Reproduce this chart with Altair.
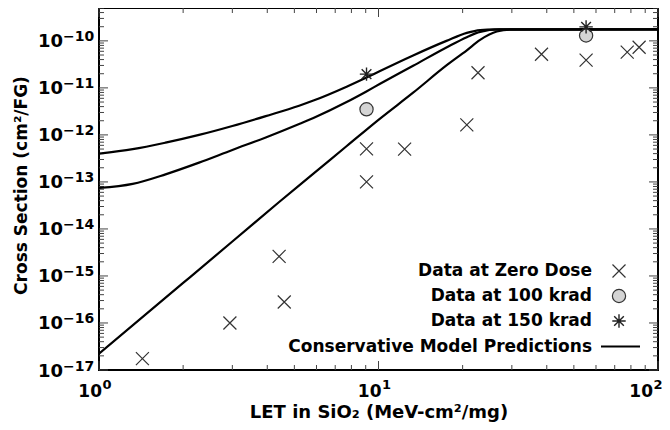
import altair as alt
import pandas as pd

# ---------------- data ----------------
LET_ZERO = [1.43, 2.94, 4.41, 4.60, 9.06, 9.06, 12.4, 20.7, 22.7, 38.3, 55.3, 77.6, 85.6]
XS_ZERO = [1.75e-17, 1.0e-16, 2.6e-15, 2.8e-16, 5.05e-13, 1.0e-13, 5.0e-13,
           1.63e-12, 2.1e-11, 5.2e-11, 3.9e-11, 5.75e-11, 7.3e-11]
LET_100 = [9.06, 55.3]
XS_100 = [3.5e-12, 1.3e-10]
LET_150 = [9.06, 55.3]
XS_150 = [1.96e-11, 1.98e-10]

MODEL_A_LET = [1, 1.32, 1.73, 2.28, 3.0, 3.95, 5.2, 5.85, 7.69, 9.02, 10.13, 13.3, 17.5, 20.7, 23.1, 26.0, 100]
MODEL_A_XS = [4.0e-13, 4.97e-13, 6.84e-13, 1.0e-12, 1.55e-12, 2.51e-12, 4.17e-12, 5.37e-12,
              1.06e-11, 1.64e-11, 2.29e-11, 4.9e-11, 1.0e-10, 1.48e-10, 1.7e-10, 1.75e-10, 1.75e-10]
MODEL_B_LET = [1, 1.32, 1.73, 2.28, 3.0, 3.95, 5.2, 5.85, 7.69, 9.02, 10.13, 13.3, 17.5, 20.7, 23.1, 27.0, 100]
MODEL_B_XS = [7.45e-14, 9.1e-14, 1.45e-13, 2.57e-13, 4.79e-13, 8.8e-13, 1.7e-12, 2.29e-12,
              5.0e-12, 8.3e-12, 1.22e-11, 2.95e-11, 7.24e-11, 1.2e-10, 1.55e-10, 1.75e-10, 1.75e-10]
MODEL_C_LET = [1, 2, 3, 4.4, 5.85, 7.7, 10.1, 13.3, 17.5, 20.7, 23.1, 26.5, 30, 100]
MODEL_C_XS = [2.23e-17, 7.1e-16, 5.4e-15, 3.7e-14, 1.5e-13, 5.8e-13, 2.2e-12, 7.9e-12,
              3.0e-11, 6.3e-11, 1.05e-10, 1.58e-10, 1.74e-10, 1.75e-10]

X_MAJOR = [1, 10, 100]
X_EXP = ["0", "1", "2"]
Y_MAJOR = [1e-17, 1e-16, 1e-15, 1e-14, 1e-13, 1e-12, 1e-11, 1e-10]
Y_EXP = ["\u221217", "\u221216", "\u221215", "\u221214", "\u221213", "\u221212", "\u221211", "\u221210"]
MINOR_MULT = [2, 3, 4, 5, 6, 7, 8, 9]

LEGEND_LABELS = ["Data at Zero Dose", "Data at 100 krad", "Data at 150 krad",
                 "Conservative Model Predictions"]
X_TITLE = "LET in SiO\u2082 (MeV-cm\u00b2/mg)"
Y_TITLE = "Cross Section (cm\u00b2/FG)"

# ---------------- layout ----------------
W, H = 559, 362
X_DOMAIN = [1, 100]
Y_DOMAIN = [1e-17, 5e-10]
FONT = "DejaVu Sans"
XS_SHAPE = "M-1,-1L1,1M-1,1L1,-1"
AST_SHAPE = "M-1,0L1,0M0,-1L0,1M-0.72,-0.72L0.72,0.72M-0.72,0.72L0.72,-0.72"

xscale = alt.Scale(type="log", domain=X_DOMAIN)
yscale = alt.Scale(type="log", domain=Y_DOMAIN)


def X(f="v"):
    return alt.X(f + ":Q", scale=xscale, axis=None)


def Y(f="v"):
    return alt.Y(f + ":Q", scale=yscale, axis=None)


x_minor = [m * d for d in [1, 10] for m in MINOR_MULT]
y_minor = [m * d for d in Y_MAJOR for m in MINOR_MULT if m * d <= Y_DOMAIN[1]]

df_xmaj = pd.DataFrame({"v": X_MAJOR, "exp": X_EXP, "base": ["10"] * len(X_MAJOR)})
df_ymaj = pd.DataFrame({"v": Y_MAJOR, "exp": Y_EXP, "base": ["10"] * len(Y_MAJOR)})
df_xmin = pd.DataFrame({"v": x_minor})
df_ymin = pd.DataFrame({"v": y_minor})

TICK_COLOR = "#444"
MAJ, MIN = 9, 5
layers = []


def tick_layers(df, length):
    base = alt.Chart(df).mark_rule(color=TICK_COLOR, strokeWidth=1)
    return [base.encode(x=X(), y=alt.value(H), y2=alt.value(H - length)),
            base.encode(x=X(), y=alt.value(0), y2=alt.value(length))]


def ytick_layers(df, length):
    base = alt.Chart(df).mark_rule(color=TICK_COLOR, strokeWidth=1)
    return [base.encode(y=Y(), x=alt.value(0), x2=alt.value(length)),
            base.encode(y=Y(), x=alt.value(W - length), x2=alt.value(W))]


layers += tick_layers(df_xmin, MIN) + tick_layers(df_xmaj, MAJ)
layers += ytick_layers(df_ymin, MIN) + ytick_layers(df_ymaj, MAJ)

# tick labels
layers.append(alt.Chart(df_ymaj).mark_text(
    font=FONT, fontWeight="bold", fontSize=18, align="right", baseline="middle", dy=1.5, color="black"
).encode(y=Y(), x=alt.value(-36), text="base:N"))
layers.append(alt.Chart(df_ymaj).mark_text(
    font=FONT, fontWeight="bold", fontSize=14, align="left", baseline="alphabetic", dy=0.5, color="black"
).encode(y=Y(), x=alt.value(-36), text="exp:N"))

# x labels: inner ones centred on their tick, the last one pulled in to stay on the page
for part, shift in [(df_xmaj.iloc[:-1], 3), (df_xmaj.iloc[-1:], -5)]:
    layers.append(alt.Chart(part).mark_text(
        font=FONT, fontWeight="bold", fontSize=17, align="right", baseline="alphabetic", dx=shift,
        color="black"
    ).encode(x=X(), y=alt.value(H + 27), text="base:N"))
    layers.append(alt.Chart(part).mark_text(
        font=FONT, fontWeight="bold", fontSize=13, align="left", baseline="alphabetic", dx=shift + 0.5,
        color="black"
    ).encode(x=X(), y=alt.value(H + 18.5), text="exp:N"))

# axis titles
layers.append(alt.Chart(pd.DataFrame({"t": [X_TITLE]})).mark_text(
    font=FONT, fontWeight="bold", fontSize=18, align="center", baseline="middle", color="black"
).encode(x=alt.value(280), y=alt.value(404.5), text="t:N"))
layers.append(alt.Chart(pd.DataFrame({"t": [Y_TITLE]})).mark_text(
    font=FONT, fontWeight="bold", fontSize=17, align="center", baseline="middle", angle=270, color="black"
).encode(x=alt.value(-77), y=alt.value(177.5), text="t:N"))

# model curves
df_model = pd.concat([
    pd.DataFrame({"let": MODEL_A_LET, "xs": MODEL_A_XS, "curve": "A"}),
    pd.DataFrame({"let": MODEL_B_LET, "xs": MODEL_B_XS, "curve": "B"}),
    pd.DataFrame({"let": MODEL_C_LET, "xs": MODEL_C_XS, "curve": "C"}),
])
layers.append(alt.Chart(df_model).mark_line(
    color="black", strokeWidth=2.2, interpolate="monotone", clip=True
).encode(x=X("let"), y=Y("xs"), detail="curve:N"))

# data points
df_zero = pd.DataFrame({"let": LET_ZERO, "xs": XS_ZERO})
df_100 = pd.DataFrame({"let": LET_100, "xs": XS_100})
df_150 = pd.DataFrame({"let": LET_150, "xs": XS_150})

zero_mark = dict(shape=XS_SHAPE, filled=False, size=169, color="#333", strokeWidth=1.2, opacity=1)
circ_mark = dict(shape="circle", filled=True, size=175, fill="#d4d4d4", stroke="#333",
                 strokeWidth=1.2, opacity=1)
ast_mark = dict(shape=AST_SHAPE, filled=False, size=180, color="#222", strokeWidth=1.4, opacity=1)

layers.append(alt.Chart(df_zero).mark_point(**zero_mark).encode(x=X("let"), y=Y("xs")))
layers.append(alt.Chart(df_100).mark_point(**circ_mark).encode(x=X("let"), y=Y("xs")))
layers.append(alt.Chart(df_150).mark_point(**ast_mark).encode(x=X("let"), y=Y("xs")))

# legend (manual, inside plot at lower right)
ROW_Y = [263, 288, 313, 338.5]
for i, lab in enumerate(LEGEND_LABELS):
    layers.append(alt.Chart(pd.DataFrame({"t": [lab]})).mark_text(
        font=FONT, fontWeight="bold", fontSize=17, align="right", baseline="middle", color="black"
    ).encode(x=alt.value(493), y=alt.value(ROW_Y[i]), text="t:N"))
sym_df = pd.DataFrame({"t": [0]})
layers.append(alt.Chart(sym_df).mark_point(**zero_mark).encode(x=alt.value(520), y=alt.value(ROW_Y[0])))
layers.append(alt.Chart(sym_df).mark_point(**circ_mark).encode(x=alt.value(520), y=alt.value(ROW_Y[1])))
layers.append(alt.Chart(sym_df).mark_point(**ast_mark).encode(x=alt.value(520), y=alt.value(ROW_Y[2])))
layers.append(alt.Chart(sym_df).mark_rule(color="black", strokeWidth=2.2).encode(
    x=alt.value(502), x2=alt.value(541), y=alt.value(ROW_Y[3])))

chart = alt.layer(*layers).properties(
    width=W, height=H,
    autosize=alt.AutoSizeParams(type="none"),
    padding={"left": 91, "top": 0, "right": 4, "bottom": 52},
    background="white",
).configure_view(stroke="#000", strokeWidth=2)

chart.save("out.html", embed_options={"renderer": "svg", "actions": False})
